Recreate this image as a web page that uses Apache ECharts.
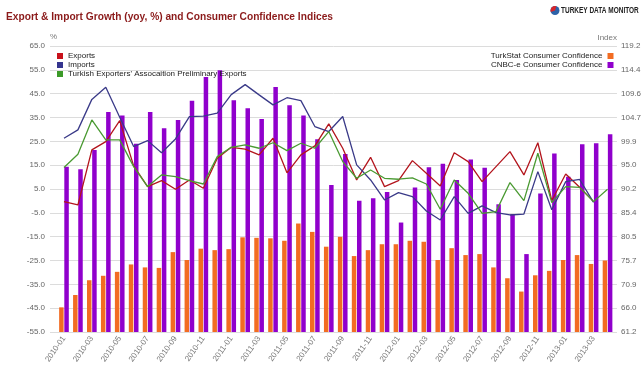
<!DOCTYPE html>
<html><head><meta charset="utf-8">
<script src="https://cdn.jsdelivr.net/npm/echarts@6/dist/echarts.min.js"></script>
<style>html,body{margin:0;padding:0;background:#fff}#c{width:644px;height:378px}</style>
</head><body><div id="c"></div>
<script>
const months = ['2010-01','2010-02','2010-03','2010-04','2010-05','2010-06','2010-07','2010-08','2010-09','2010-10','2010-11','2010-12',
  '2011-01','2011-02','2011-03','2011-04','2011-05','2011-06','2011-07','2011-08','2011-09','2011-10','2011-11','2011-12',
  '2012-01','2012-02','2012-03','2012-04','2012-05','2012-06','2012-07','2012-08','2012-09','2012-10','2012-11','2012-12',
  '2013-01','2013-02','2013-03','2013-04'];
const exportsGrowth = [-0.3,-1.7,21.4,24.9,33.7,14.7,6.0,8.5,4.9,8.8,5.3,17.9,
  22.5,21.7,19.3,26.3,11.8,19.3,23.1,32.3,22.1,8.8,18.3,6.0,
  8.5,16.9,11.6,6.3,20.2,16.5,8.1,14.4,20.7,10.9,24.4,0.2,
  11.3,5.7,-0.3,null];
const importsGrowth = [26.3,29.8,42.6,47.7,35.1,22.8,25.3,20.2,26.0,35.4,35.6,36.8,
  44.6,48.8,44.5,40.3,43.3,42.1,31.2,29.1,35.4,15.1,8.8,0.4,
  3.5,1.8,-4.2,-8.0,1.8,-5.2,-2.1,-4.9,-5.9,-5.5,12.3,-3.7,
  8.1,9.0,-0.6,null];
const teaExports = [14.0,19.6,34.0,25.6,25.6,14.4,6.0,10.9,10.2,8.5,7.1,18.6,
  22.5,23.5,22.1,24.4,21.1,24.2,22.1,29.1,16.5,9.5,13.0,9.5,
  9.1,9.7,7.1,-3.5,8.8,3.2,-5.2,-4.5,7.7,0.1,20.0,-0.7,
  6.0,5.7,-0.3,4.9];
const turkstatCC = [66.2,68.7,71.7,72.6,73.4,74.9,74.3,74.2,77.4,75.8,78.1,77.8,
  78.0,80.4,80.3,80.2,79.7,83.2,81.5,78.5,80.5,76.6,77.8,79.0,
  79.0,79.7,79.5,75.8,78.2,76.8,77.0,74.3,72.1,69.4,72.7,73.6,
  75.8,76.8,75.0,75.7];
const cnbceCC = [94.7,94.2,98.1,105.8,105.1,99.4,105.8,102.5,104.2,108.1,112.9,114.3,
  108.2,106.6,104.4,110.9,107.2,105.1,100.3,91.0,97.3,87.8,88.3,89.6,
  83.4,90.5,94.6,95.3,92.0,96.2,94.5,87.1,85.1,77.0,89.3,97.4,
  92.7,99.3,99.5,101.3];
const leftTicks = [-55,-45,-35,-25,-15,-5,5,15,25,35,45,55,65];
const rightTickLabels = ['61.2','66.0','70.9','75.7','80.5','85.4','90.2','95.0','99.9','104.7','109.6','114.4','119.2'];
const L_MIN = -55, L_MAX = 65, R_MIN = 61.2, R_MAX = 119.2;
const R_STEP = (R_MAX - R_MIN) / (rightTickLabels.length - 1);
const rightTicks = rightTickLabels.map((_, k) => R_MIN + k * R_STEP);

const FONT = "'Liberation Sans', Arial, sans-serif";
const names = ['Exports','Imports',"Turkish Exporters' Assocaition Preliminary Exports",'TurkStat Consumer Confidence','CNBC-e Consumer Confidence'];

const chart = echarts.init(document.getElementById('c'));
chart.setOption({
  animation: false,
  textStyle: {fontFamily: FONT},
  title: {text: 'Export & Import Growth (yoy, %) and Consumer Confidence Indices', left: 1, top: 7,
    textStyle: {color: '#8b1a1a', fontSize: 10.2, fontWeight: 'bold', fontFamily: FONT}},
  legend: [
    {data: names.slice(0,3), orient: 'vertical', left: 57, top: 52, itemWidth: 6, itemHeight: 6, itemGap: 1,
      icon: 'rect', padding: 0, textStyle: {fontSize: 8, color: '#222', fontFamily: FONT}},
    {data: names.slice(3), orient: 'vertical', right: 30.5, top: 52, align: 'right', itemWidth: 6, itemHeight: 6, itemGap: 1,
      icon: 'rect', padding: 0, textStyle: {fontSize: 8, color: '#222', fontFamily: FONT}}
  ],
  grid: [
    {left: 50, right: 24, top: 46, bottom: 46},
    {left: 57, right: 29.5, top: 46, bottom: 46}
  ],
  xAxis: [
    {gridIndex: 0, type: 'value', min: 0, max: 1, show: false},
    {gridIndex: 1, type: 'category', data: months, boundaryGap: true,
      axisLine: {show: false}, axisTick: {show: false},
      axisLabel: {interval: 1, rotate: 55, fontSize: 8, color: '#777', margin: 5, fontFamily: FONT}}
  ],
  yAxis: [
    {gridIndex: 0, type: 'value', min: L_MIN, max: L_MAX, position: 'left',
      name: '%', nameLocation: 'end', nameGap: 5, nameTextStyle: {align: 'left', fontSize: 8, color: '#777'},
      axisLine: {show: false}, axisTick: {show: false, customValues: leftTicks},
      axisLabel: {customValues: leftTicks, formatter: v => Number(v).toFixed(1), fontSize: 8, color: '#666', margin: 5},
      splitLine: {show: true, lineStyle: {color: '#dcdcdc', width: 1}}},
    {gridIndex: 0, type: 'value', min: R_MIN, max: R_MAX, position: 'right',
      name: 'Index', nameLocation: 'end', nameGap: 4, nameTextStyle: {align: 'right', fontSize: 8, color: '#777'},
      axisLine: {show: false}, axisTick: {show: false, customValues: rightTicks},
      axisLabel: {customValues: rightTicks, formatter: v => rightTickLabels[Math.round((v - R_MIN) / R_STEP)], fontSize: 8, color: '#666', margin: 4},
      splitLine: {show: false}},
    {gridIndex: 1, type: 'value', min: L_MIN, max: L_MAX, show: false, splitLine: {show: false}},
    {gridIndex: 1, type: 'value', min: R_MIN, max: R_MAX, show: false, position: 'right', splitLine: {show: false}}
  ],
  series: [
    {name: names[0], type: 'line', xAxisIndex: 1, yAxisIndex: 2, data: exportsGrowth, symbol: 'none', z: 5,
      itemStyle: {color: '#c8111b'}, lineStyle: {width: 1.3, color: '#b3151d'}},
    {name: names[1], type: 'line', xAxisIndex: 1, yAxisIndex: 2, data: importsGrowth, symbol: 'none', z: 5,
      itemStyle: {color: '#35358f'}, lineStyle: {width: 1.3, color: '#3a3a88'}},
    {name: names[2], type: 'line', xAxisIndex: 1, yAxisIndex: 2, data: teaExports, symbol: 'none', z: 5,
      itemStyle: {color: '#3c9a28'}, lineStyle: {width: 1.3, color: '#4a9a32'}},
    {name: names[3], type: 'bar', xAxisIndex: 1, yAxisIndex: 3, data: turkstatCC, barWidth: 4.5, barGap: '15%',
      itemStyle: {color: '#f26c22'}},
    {name: names[4], type: 'bar', xAxisIndex: 1, yAxisIndex: 3, data: cnbceCC, barWidth: 4.5, barGap: '15%',
      itemStyle: {color: '#9000cc'}}
  ],
  graphic: [
    {type: 'circle', shape: {cx: 555, cy: 10.5, r: 4.5}, style: {fill: '#2d62a8'}},
    {type: 'sector', shape: {cx: 555, cy: 10.5, r: 4.5, startAngle: Math.PI * 0.9, endAngle: Math.PI * 1.6}, style: {fill: '#d8262b'}},
    {type: 'text', x: 561, y: 10.5, scaleX: 0.72, scaleY: 1,
      style: {text: 'TURKEY DATA MONITOR', font: "bold 9px " + FONT, fill: '#222', verticalAlign: 'middle', align: 'left'}}
  ]
});
</script></body></html>
